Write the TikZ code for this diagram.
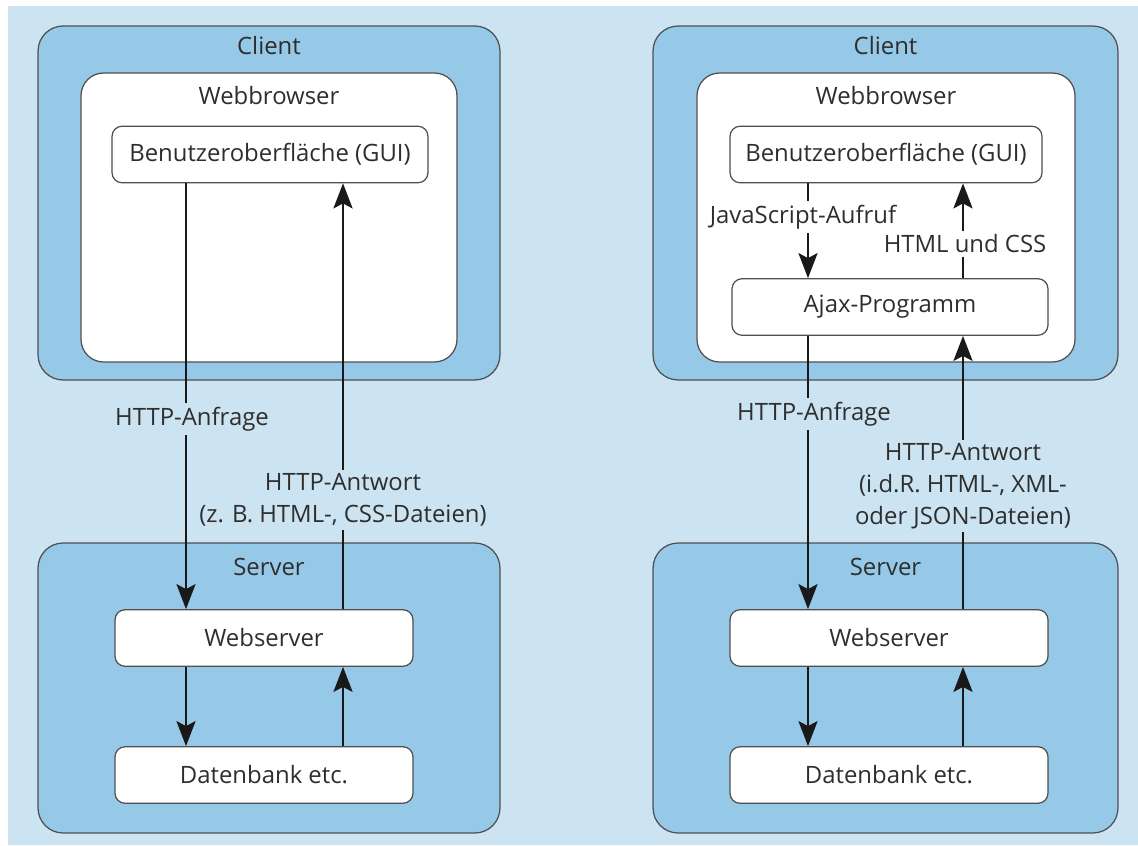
\documentclass[tikz,border=0pt]{standalone}
\usepackage{fontspec}
\setmainfont{Open Sans}
\usepackage{xcolor}
\usepackage{tikz}
\usetikzlibrary{arrows.meta, positioning}
\definecolor{kpale}{HTML}{CCE4F2}
\definecolor{kmid}{HTML}{96C9E7}
\definecolor{kline}{HTML}{4F4F4F}
\definecolor{ktext}{HTML}{2E2E2E}

\tikzset{
  tierbox/.style={draw=kline, fill=kmid, line width=0.7pt, rounded corners=0.5cm},
  appbox/.style={draw=kline, fill=white, line width=0.7pt, rounded corners=0.45cm},
  partbox/.style={draw=kline, fill=white, line width=0.7pt, rounded corners=0.2cm,
    minimum height=1.13cm, font=\fontsize{13.6}{16}\selectfont, text=ktext},
  boxtitle/.style={anchor=base, font=\fontsize{13.6}{16}\selectfont, text=ktext},
  flowlabel/.style={font=\fontsize{13.6}{18.2}\selectfont, text=ktext, align=center, inner sep=2pt},
  flow/.style={-{Stealth[length=0.5cm, width=0.38cm, inset=0.1cm]}, line width=1.6pt, black!90}
}

\begin{document}
\begin{tikzpicture}[x=0.02cm, y=-0.02cm]
\useasboundingbox (0,0) rectangle (1138,845);
\fill[kpale] (8,6) rectangle (1138,845);

% ---- classic model (left)
\node[tierbox, minimum width=9.24cm, minimum height=7.08cm] (cliL) at (269,203) {};
\node[appbox, minimum width=7.52cm, minimum height=5.78cm] (wbL) at (269,217.5) {};
\node[boxtitle] at ([yshift=-0.58cm]cliL.north) {Client};
\node[boxtitle] at ([yshift=-0.64cm]wbL.north) {Webbrowser};
\node[partbox, minimum width=6.32cm] (guiL) at (270,154.5) {Benutzeroberfl\"ache (GUI)};

\node[tierbox, minimum width=9.24cm, minimum height=5.8cm] (srvL) at (269,688) {};
\node[boxtitle] at ([yshift=-0.66cm]srvL.north) {Server};
\node[partbox, minimum width=5.96cm] (webL) at (264,638) {Webserver};
\node[partbox, minimum width=5.96cm] (dbL) at (264,775) {Datenbank etc.};

\coordinate (downL) at (186,0);
\coordinate (upL) at (343,0);
\draw[flow] (downL |- guiL.south) -- (downL |- webL.north);
\draw[flow] (upL |- webL.north) -- (upL |- guiL.south);
\draw[flow] (downL |- webL.south) -- (downL |- dbL.north);
\draw[flow] (upL |- dbL.north) -- (upL |- webL.south);
\node[flowlabel, fill=kpale] (reqL) at (192,419) {HTTP-Anfrage};
\node[flowlabel, fill=kpale] (resL) at (343,500) {HTTP-Antwort\\(z. B. HTML-, CSS-Dateien)};

% ---- Ajax model (right)
\node[tierbox, minimum width=9.3cm, minimum height=7.08cm] (cliR) at (885.5,203) {};
\node[appbox, minimum width=7.56cm, minimum height=5.78cm] (wbR) at (886,217.5) {};
\node[boxtitle] at ([yshift=-0.58cm]cliR.north) {Client};
\node[boxtitle] at ([yshift=-0.64cm]wbR.north) {Webbrowser};
\node[partbox, minimum width=6.24cm] (guiR) at (886,154.5) {Benutzeroberfl\"ache (GUI)};
\node[partbox, minimum width=6.32cm] (ajaxR) at (890,307) {Ajax-Programm};

\node[tierbox, minimum width=9.3cm, minimum height=5.8cm] (srvR) at (885.5,688) {};
\node[boxtitle] at ([yshift=-0.66cm]srvR.north) {Server};
\node[partbox, minimum width=6.36cm] (webR) at (889,638) {Webserver};
\node[partbox, minimum width=6.36cm] (dbR) at (889,775) {Datenbank etc.};

\coordinate (downR) at (808,0);
\coordinate (upR) at (963,0);
\draw[flow] (downR |- guiR.south) -- (downR |- ajaxR.north);
\draw[flow] (upR |- ajaxR.north) -- (upR |- guiR.south);
\draw[flow] (downR |- ajaxR.south) -- (downR |- webR.north);
\draw[flow] (upR |- webR.north) -- (upR |- ajaxR.south);
\draw[flow] (downR |- webR.south) -- (downR |- dbR.north);
\draw[flow] (upR |- dbR.north) -- (upR |- webR.south);
\node[flowlabel, fill=white] (jsR) at (803,217) {JavaScript-Aufruf};
\node[flowlabel, fill=white] (htmlR) at (965,244) {HTML und CSS};
\node[flowlabel, fill=kpale] (reqR) at (814,414) {HTTP-Anfrage};
\node[flowlabel, fill=kpale] (resR) at (963,486) {HTTP-Antwort\\(i.d.R. HTML-, XML-\\oder JSON-Dateien)};
\end{tikzpicture}
\end{document}
